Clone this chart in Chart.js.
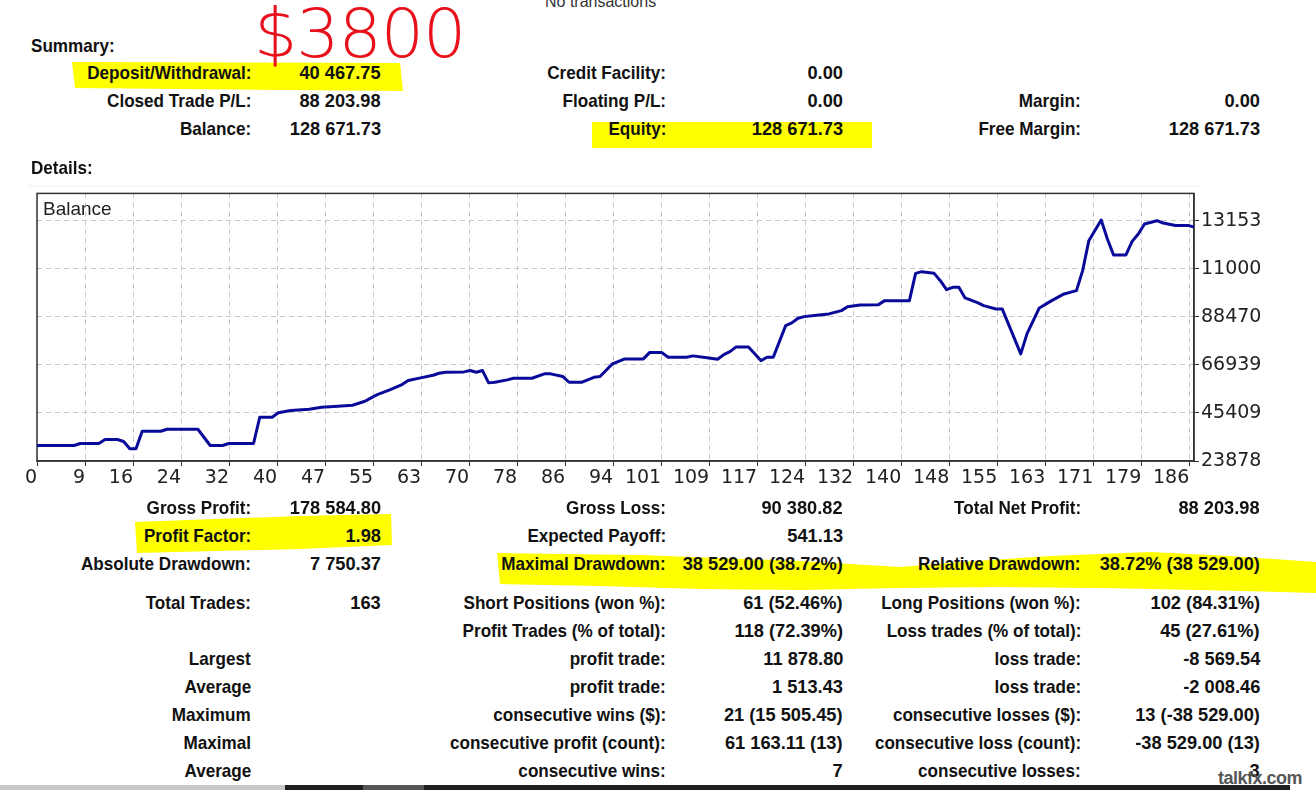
<!DOCTYPE html>
<html>
<head>
<meta charset="utf-8">
<script src="https://cdn.jsdelivr.net/npm/chart.js@4.4.1/dist/chart.umd.min.js"></script>
<style>
html, body { margin: 0; padding: 0; background: #fff; width: 1316px; height: 790px; overflow: hidden; }
body { position: relative; font-family: "Liberation Sans", Arial, sans-serif; color: #111; }
.t { position: absolute; white-space: nowrap; font-weight: bold; font-size: 19px; line-height: 20px; z-index: 2; transform-origin: right center; }
.lab { transform: scaleX(0.9); }
.val { transform: scaleX(0.96); }
.left { transform-origin: left center; }
#chartBox { position: absolute; left: 20px; top: 180px; width: 1290px; height: 320px; z-index: 1; }
#marks { position: absolute; left: 0; top: 0; z-index: 0; }
#hand { position: absolute; left: 254px; top: -6px; font-family: "DejaVu Sans", sans-serif; font-weight: 200; font-size: 68px; color: #e8101a; z-index: 3; letter-spacing: -1px; }
#notx { position: absolute; left: 545px; top: -7px; font-size: 16px; color: #333; }
#balTitle { position: absolute; left: 43px; top: 198px; font-size: 19px; color: #222; z-index: 2; }
#wm { position: absolute; left: 1218px; top: 768px; font-weight: bold; font-size: 18px; color: #555; letter-spacing: -0.5px; z-index: 4; }
.bar { position: absolute; top: 785px; height: 5px; }
</style>
</head>
<body>
<svg id="marks" width="1316" height="790">
  <path d="M72,62 L400,63 L403,91 L75,88 Z" fill="#ffff00"/>
  <path d="M592,122 L872,122 L872,148 L592,148 Z" fill="#ffff00"/>
  <path d="M135,522 L300,516 L391,514 L392,545 L300,549 L137,553 Z" fill="#ffff00"/>
  <path d="M497,553 L640,555 L800,561 L900,567 L960,562 L1050,556 L1150,552 L1230,556 L1316,562 L1316,593 L1200,590 L1100,588 L1000,587 L900,588 L800,590 L700,589 L600,586 L500,584 Z" fill="#ffff00"/>
  <line x1="28" y1="186" x2="1200" y2="186" stroke="#f0f0f0" stroke-width="1"/>
</svg>
<div id="notx">No transactions</div>
<div id="hand">$3800</div>
<div id="balTitle">Balance</div>
<div id="chartBox"><canvas id="canvas"></canvas></div>
<div id="wm">talkfx.com</div>
<div class="bar" style="left:0;width:285px;background:#c8c8c8"></div>
<div class="bar" style="left:285px;width:1005px;background:#1e1e1e"></div>
<div class="bar" style="left:363px;width:61px;background:#555"></div>

<script>
// balance curve (trade number -> balance)
const tradeNo = [0, 6, 7, 10, 11, 13, 14, 15, 16, 17, 20, 21, 26, 28, 30, 31, 35, 36, 38, 39,
    41, 44, 46, 48, 51, 53, 54, 55, 57, 59, 60, 62, 64, 65, 66, 69, 70, 71, 72, 73,
    74, 76, 77, 80, 82, 83, 85, 86, 88, 90, 91, 93, 95, 98, 99, 101, 102, 105, 106, 108,
    110, 111, 112, 113, 115, 117, 118, 119, 121, 122, 123, 124, 126, 128, 130, 131, 133, 136, 137, 141,
    142, 143, 145, 146, 147, 148, 149, 150, 152, 153, 155, 156, 159, 160, 162, 164, 166, 168, 169, 170,
    172, 173, 174, 176, 177, 178, 179, 181, 182, 184, 186, 187]
const balance = [30820, 30820, 31710, 31710, 33500, 33500, 32610, 29340, 29340, 37220, 37220, 38110, 38110, 30820, 30820, 31710, 31710, 43480, 43480, 45450,
    46480, 47060, 47960, 48270, 48850, 50640, 52170, 53640, 55750, 58120, 59910, 61120, 62280, 63180, 63630, 63800, 64390, 63630, 64390, 58880,
    59150, 60220, 60940, 60940, 62910, 62910, 61700, 59150, 59150, 61390, 61700, 67390, 69620, 69620, 72440, 72440, 70340, 70340, 70970, 70210,
    69440, 71550, 72890, 74990, 74990, 68860, 70340, 70340, 84530, 85740, 87800, 88560, 89140, 89770, 91240, 93030, 93790, 93930, 95720, 95720,
    107940, 108700, 107940, 104670, 100640, 101670, 101670, 96930, 94820, 93480, 92000, 92000, 71860, 80810, 92450, 95720, 98720, 100190, 109150, 122570,
    131840, 123340, 116170, 116170, 122260, 125570, 130050, 131530, 130500, 129420, 129420, 128670]

const xTickLabels = ['0', '9', '16', '24', '32', '40', '47', '55', '63', '70', '78', '86', '94',
    '101', '109', '117', '124', '132', '140', '148', '155', '163', '171', '179', '186']
const yTickValues = [23878, 45409, 66939, 88470, 110000, 131531]
const yTickLabels = ['23878', '45409', '66939', '88470', '11000', '13153']
const xMax = 187
const xTickStep = 7.76
const yMax = 143760

// report tables: [row centre y, label, value, label, value, label, value]
const summaryRows = [
    [73, 'Deposit/Withdrawal:', '40 467.75', 'Credit Facility:', '0.00', '', ''],
    [101, 'Closed Trade P/L:', '88 203.98', 'Floating P/L:', '0.00', 'Margin:', '0.00'],
    [129, 'Balance:', '128 671.73', 'Equity:', '128 671.73', 'Free Margin:', '128 671.73'],
]
const detailRows = [
    [508, 'Gross Profit:', '178 584.80', 'Gross Loss:', '90 380.82', 'Total Net Profit:', '88 203.98'],
    [536, 'Profit Factor:', '1.98', 'Expected Payoff:', '541.13', '', ''],
    [564, 'Absolute Drawdown:', '7 750.37', 'Maximal Drawdown:', '38 529.00 (38.72%)', 'Relative Drawdown:', '38.72% (38 529.00)'],
    [603, 'Total Trades:', '163', 'Short Positions (won %):', '61 (52.46%)', 'Long Positions (won %):', '102 (84.31%)'],
    [631, '', '', 'Profit Trades (% of total):', '118 (72.39%)', 'Loss trades (% of total):', '45 (27.61%)'],
    [659, 'Largest', '', 'profit trade:', '11 878.80', 'loss trade:', '-8 569.54'],
    [687, 'Average', '', 'profit trade:', '1 513.43', 'loss trade:', '-2 008.46'],
    [715, 'Maximum', '', 'consecutive wins ($):', '21 (15 505.45)', 'consecutive losses ($):', '13 (-38 529.00)'],
    [743, 'Maximal', '', 'consecutive profit (count):', '61 163.11 (13)', 'consecutive loss (count):', '-38 529.00 (13)'],
    [771, 'Average', '', 'consecutive wins:', '7', 'consecutive losses:', '3'],
]
const colRight = [251, 381, 666, 843, 1081, 1260]

const put = (text, cls, left, right, cy) => {
    const d = document.createElement('div')
    d.className = 't ' + cls
    d.textContent = text
    if (left !== null) d.style.left = left + 'px'
    else d.style.right = (1316 - right) + 'px'
    d.style.top = (cy - 10) + 'px'
    document.body.appendChild(d)
}
put('Summary:', 'lab left', 31, null, 46)
put('Details:', 'lab left', 31, null, 168)
summaryRows.concat(detailRows).forEach(row => {
    for (let c = 0; c < 6; c++) {
        if (row[c + 1]) put(row[c + 1], c % 2 ? 'val' : 'lab', null, colRight[c], row[0])
    }
})

const framePlugin = {
    id: 'frame',
    beforeDatasetsDraw(chart) {
        const a = chart.chartArea
        const ctx = chart.ctx
        ctx.save()
        ctx.strokeStyle = '#333'
        ctx.lineWidth = 1.5
        ctx.strokeRect(a.left, a.top, a.right - a.left, a.bottom - a.top)
        ctx.restore()
    }
}

const tickFont = { family: 'DejaVu Sans', size: 19 }
const canvas = document.getElementById('canvas')
new Chart(canvas, {
    type: 'line',
    data: {
        datasets: [{
            label: 'Balance',
            data: tradeNo.map((n, i) => ({ x: n, y: balance[i] })),
            borderColor: '#0a0a9a',
            borderWidth: 3,
            borderJoinStyle: 'round',
            pointRadius: 0,
            tension: 0,
            fill: false
        }]
    },
    options: {
        responsive: true,
        maintainAspectRatio: false,
        animation: false,
        layout: { padding: { left: 17, top: 12, right: 16, bottom: 9 } },
        plugins: { legend: { display: false }, tooltip: { enabled: false } },
        scales: {
            x: {
                type: 'linear',
                min: 0,
                max: xMax,
                afterBuildTicks: s => { s.ticks = xTickLabels.map((_, i) => ({ value: i * xTickStep })) },
                afterFit: s => { s.height = 30 },
                ticks: {
                    callback: (v, i) => xTickLabels[i],
                    align: 'end',
                    autoSkip: false,
                    maxRotation: 0,
                    padding: 1,
                    font: tickFont,
                    color: '#222'
                },
                grid: { color: '#c6c6c6', lineWidth: 1, tickLength: 5, tickColor: '#333', tickWidth: 1 },
                border: { display: true, color: '#333', width: 1.5, dash: [5, 4] }
            },
            y: {
                position: 'right',
                min: yTickValues[0],
                max: yMax,
                afterBuildTicks: s => { s.ticks = yTickValues.map(v => ({ value: v })) },
                afterFit: s => { s.width = 100 },
                ticks: {
                    callback: (v, i) => yTickLabels[i],
                    padding: 2,
                    font: tickFont,
                    color: '#222'
                },
                grid: { color: '#c6c6c6', lineWidth: 1, tickLength: 5, tickColor: '#333', tickWidth: 1 },
                border: { display: true, color: '#333', width: 1.5, dash: [5, 4] }
            }
        }
    },
    plugins: [framePlugin]
})
</script>
</body>
</html>
